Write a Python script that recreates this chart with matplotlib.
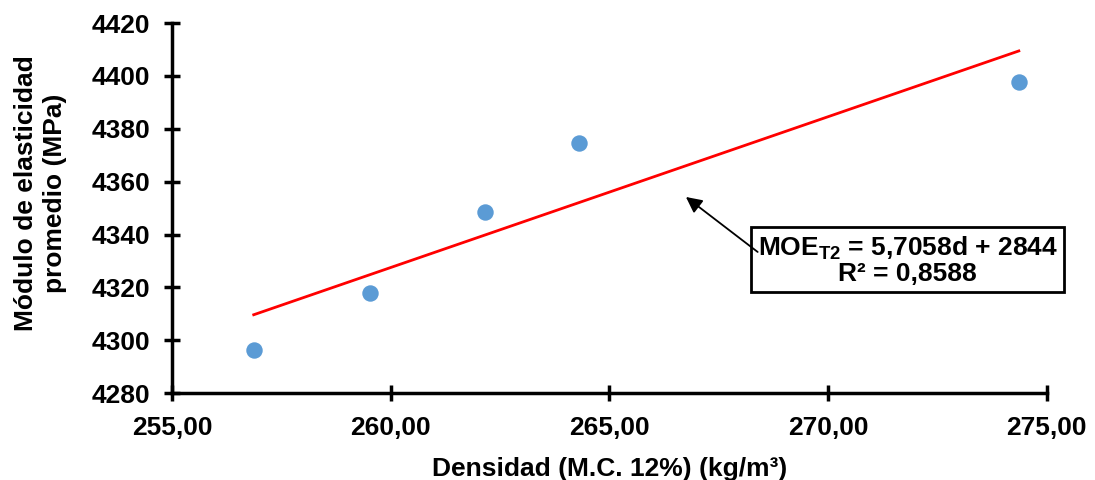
import numpy as np
import matplotlib.pyplot as plt

plt.rcParams['font.family'] = ['Liberation Sans', 'DejaVu Sans']
plt.rcParams['font.weight'] = 'bold'
plt.rcParams['mathtext.fontset'] = 'custom'
plt.rcParams['mathtext.bf'] = 'Liberation Sans:bold'
plt.rcParams['mathtext.rm'] = 'Liberation Sans:bold'
plt.rcParams['mathtext.default'] = 'bf'

# datos
densidad = [256.87, 259.53, 262.15, 264.30, 274.36]
moe = [4296.2, 4317.8, 4348.6, 4374.7, 4397.6]
pendiente = 5.7058
intercepto = 2844

x_ticks = [255, 260, 265, 270, 275]
y_ticks = [4280, 4300, 4320, 4340, 4360, 4380, 4400, 4420]

fig = plt.figure(figsize=(10.95, 4.8), dpi=100)
ax = fig.add_axes([0.157, 0.181, 0.799, 0.771])

# linea de tendencia
xl = np.array([min(densidad), max(densidad)])
ax.plot(xl, pendiente * xl + intercepto, color='#FF0000', linewidth=2, zorder=2)

ax.scatter(densidad, moe, s=140, color='#5B9BD5', zorder=3, linewidths=0)

ax.set_xlim(255, 275)
ax.set_ylim(4280, 4420)
ax.set_xticks(x_ticks)
ax.set_xticklabels(['{:.2f}'.format(v).replace('.', ',') for v in x_ticks])
ax.set_yticks(y_ticks)

for s in ['top', 'right']:
    ax.spines[s].set_visible(False)
for s in ['left', 'bottom']:
    ax.spines[s].set_linewidth(2.5)
ax.tick_params(direction='inout', length=11.5, width=2.5, labelsize=19)
ax.tick_params(axis='x', pad=11)
ax.tick_params(axis='y', pad=10)
for lbl in ax.get_xticklabels() + ax.get_yticklabels():
    lbl.set_fontweight('bold')

ax.set_xlabel('Densidad (M.C. 12%) (kg/m³)', fontsize=19, fontweight='bold', labelpad=12)
ax.set_ylabel('Módulo de elasticidad\npromedio (MPa)', fontsize=19, fontweight='bold',
              linespacing=1.25)
ax.yaxis.set_label_coords(-0.12, 0.54)

# cuadro de la ecuacion
ax.text(0.841, 0.359, 'MOE$_{T2}$ = 5,7058d + 2844\nR² = 0,8588',
        transform=ax.transAxes, ha='center', va='center', multialignment='center',
        fontsize=19, fontweight='bold', linespacing=1.0, zorder=4,
        bbox=dict(boxstyle='square,pad=0.25', fc='white', ec='black', lw=2))
ax.annotate('', xy=(266.75, 4354.2), xytext=(268.39, 4333.4),
            arrowprops=dict(arrowstyle='-|>', color='black', lw=1.3, mutation_scale=24,
                            shrinkA=0, shrinkB=0), zorder=5)

fig.savefig('out.png', dpi=100)
